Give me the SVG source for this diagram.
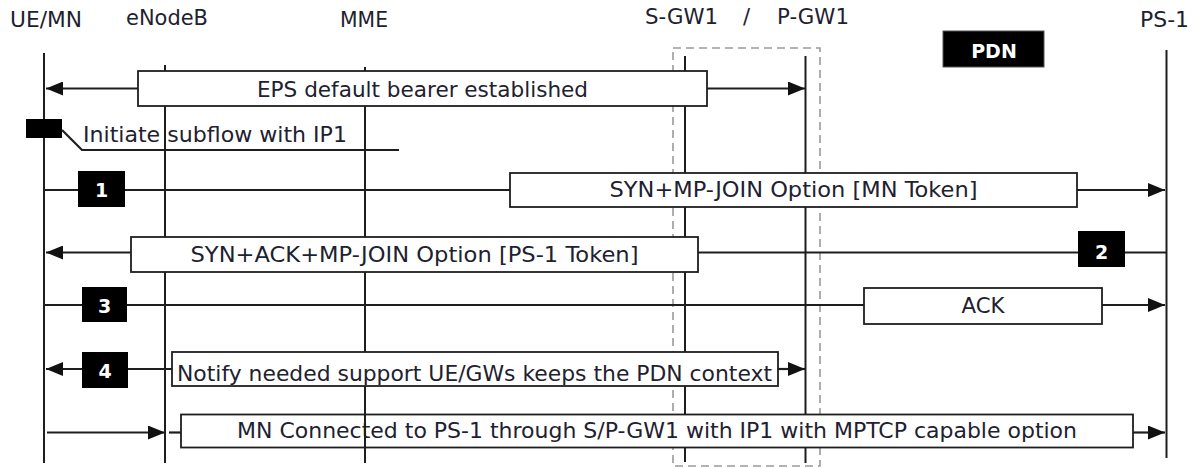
<svg xmlns="http://www.w3.org/2000/svg" width="1204" height="468" viewBox="0 0 1204 468">
  <style>
    .hdr { font-family: "DejaVu Sans", Verdana, sans-serif; font-size: 21px; fill: #1d2130; }
    .msg { font-family: "DejaVu Sans", Verdana, sans-serif; font-size: 21.5px; fill: #1d2130; }
    .mid { text-anchor: middle; }
    .num { font-family: "DejaVu Sans", Verdana, sans-serif; font-size: 19px; font-weight: bold; fill: #ffffff; text-anchor: middle; }
    .life { stroke: #1e1e1e; stroke-width: 2; fill: none; }
    .wire { stroke: #1e1e1e; stroke-width: 2.2; fill: none; }
    .arr { stroke: #1e1e1e; stroke-width: 2.2; fill: none; marker-end: url(#head); }
    .box { fill: #ffffff; stroke: #1e1e1e; stroke-width: 1.8; }
    .tag { fill: #000000; }
  </style>
  <defs>
    <marker id="head" markerUnits="userSpaceOnUse" markerWidth="17" markerHeight="14" refX="17" refY="7" orient="auto">
      <path d="M0,0 L17,7 L0,14 z" fill="#111111"/>
    </marker>
  </defs>

  <rect width="1204" height="468" fill="#ffffff"/>

  <!-- gateway grouping frame -->
  <rect id="gw-frame" x="673" y="48" width="147" height="418" fill="none" stroke="#9a9a9a" stroke-width="1.6" stroke-dasharray="8 5"/>

  <!-- participants -->
  <g id="ue-mn">
    <text class="hdr" x="10" y="27" textLength="72" lengthAdjust="spacingAndGlyphs">UE/MN</text>
    <line class="life" x1="44" y1="53" x2="44" y2="463"/>
  </g>
  <g id="enodeb">
    <text class="hdr" x="126" y="25" textLength="82" lengthAdjust="spacingAndGlyphs">eNodeB</text>
    <line class="life" x1="165" y1="65" x2="165" y2="463"/>
  </g>
  <g id="mme">
    <text class="hdr" x="340" y="27" textLength="48" lengthAdjust="spacingAndGlyphs">MME</text>
    <line class="life" x1="365" y1="67" x2="365" y2="463"/>
  </g>
  <g id="s-gw1">
    <text class="hdr" x="645" y="24" textLength="73" lengthAdjust="spacingAndGlyphs">S-GW1</text>
    <text class="hdr" x="743" y="24">/</text>
    <line class="life" x1="685" y1="56" x2="685" y2="462"/>
  </g>
  <g id="p-gw1">
    <text class="hdr" x="777" y="24" textLength="72" lengthAdjust="spacingAndGlyphs">P-GW1</text>
    <line class="life" x1="805.5" y1="56" x2="805.5" y2="463"/>
  </g>
  <g id="pdn">
    <rect x="943" y="31" width="101" height="36" fill="#000000" stroke="#555555" stroke-width="1"/>
    <text x="994" y="58" font-family="'DejaVu Sans', Verdana, sans-serif" font-size="19" font-weight="bold" fill="#ffffff" text-anchor="middle">PDN</text>
  </g>
  <g id="ps-1">
    <text class="hdr" x="1140" y="27" textLength="49" lengthAdjust="spacingAndGlyphs">PS-1</text>
    <line class="life" x1="1166.5" y1="50" x2="1166.5" y2="458"/>
  </g>

  <!-- messages -->
  <g id="connectors">
    <!-- EPS default bearer -->
    <g id="msg-eps">
      <line class="arr" x1="140" y1="88.5" x2="46" y2="88.5"/>
      <line class="arr" x1="706" y1="88.5" x2="805" y2="88.5"/>
      <rect class="box" x="138" y="71" width="569" height="35"/>
      <text class="msg mid" x="422.5" y="97" textLength="331" lengthAdjust="spacingAndGlyphs">EPS default bearer established</text>
    </g>

    <!-- subflow initiation -->
    <g id="msg-initiate">
      <rect class="tag" x="26" y="119" width="36" height="19"/>
      <polyline class="wire" points="62,130 82,150 399,150" stroke-width="1.8"/>
      <text class="msg" x="83" y="142" textLength="264" lengthAdjust="spacingAndGlyphs">Initiate subflow with IP1</text>
    </g>

    <!-- step 1 -->
    <g id="msg-1">
      <line class="arr" x1="44" y1="190" x2="1165" y2="190"/>
      <rect class="tag" x="78" y="171" width="47" height="36"/>
      <text class="num" x="101.5" y="197">1</text>
      <rect class="box" x="510" y="173" width="567" height="34"/>
      <text class="msg mid" x="793.5" y="197" textLength="368" lengthAdjust="spacingAndGlyphs">SYN+MP-JOIN Option [MN Token]</text>
    </g>

    <!-- step 2 -->
    <g id="msg-2">
      <line class="arr" x1="1166" y1="252.5" x2="46" y2="252.5"/>
      <rect class="tag" x="1078" y="231" width="47" height="36"/>
      <text class="num" x="1101.5" y="259">2</text>
      <rect class="box" x="131" y="237" width="567" height="35"/>
      <text class="msg mid" x="414.5" y="262" textLength="448" lengthAdjust="spacingAndGlyphs">SYN+ACK+MP-JOIN Option [PS-1 Token]</text>
    </g>

    <!-- step 3 -->
    <g id="msg-3">
      <line class="arr" x1="44" y1="305" x2="1165" y2="305"/>
      <rect class="tag" x="82" y="287" width="45" height="35"/>
      <text class="num" x="104.5" y="313">3</text>
      <rect class="box" x="864" y="288" width="238" height="36"/>
      <text class="msg mid" x="983" y="313" textLength="43" lengthAdjust="spacingAndGlyphs">ACK</text>
    </g>

    <!-- step 4 -->
    <g id="msg-4">
      <line class="arr" x1="173" y1="369" x2="46" y2="369"/>
      <line class="arr" x1="777" y1="369" x2="805" y2="369"/>
      <rect class="tag" x="82" y="352" width="46" height="36"/>
      <text class="num" x="105" y="378">4</text>
      <rect class="box" x="172" y="352" width="606" height="34"/>
      <text class="msg" x="177" y="381" textLength="595" lengthAdjust="spacingAndGlyphs">Notify needed support UE/GWs keeps the PDN context</text>
    </g>

    <!-- final connection -->
    <g id="msg-connected">
      <line class="arr" x1="47" y1="432.5" x2="165" y2="432.5"/>
      <line class="wire" x1="169" y1="432.5" x2="182" y2="432.5"/>
      <line class="arr" x1="1133" y1="432.5" x2="1165" y2="432.5"/>
      <rect class="box" x="181" y="414.5" width="952" height="33"/>
      <text class="msg mid" x="657" y="438" textLength="840" lengthAdjust="spacingAndGlyphs">MN Connected to PS-1 through S/P-GW1 with IP1 with MPTCP capable option</text>
      <line class="life" x1="365" y1="414" x2="365" y2="448"/>
    </g>
  </g>
</svg>
